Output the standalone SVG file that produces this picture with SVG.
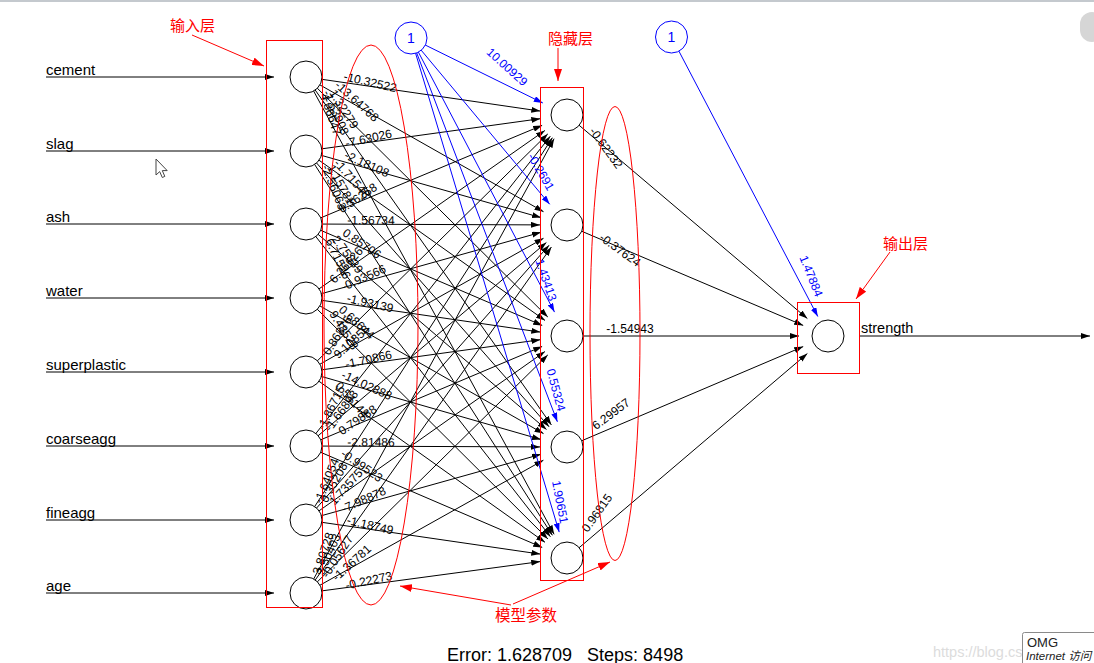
<svg xmlns="http://www.w3.org/2000/svg" width="1094" height="663" viewBox="0 0 1094 663">
<style>
.n{fill:#fff;stroke:#000;stroke-width:1}
.bn{fill:#fff;stroke:#0000ff;stroke-width:1}
.e{stroke:#000;stroke-width:1;fill:none;marker-end:url(#ak)}
.eb{stroke:#0000ff;stroke-width:1;fill:none;marker-end:url(#ab)}
.w{font-family:"Liberation Sans",Arial,sans-serif;font-size:12px;text-anchor:middle;fill:#000}
.wb{font-family:"Liberation Sans",Arial,sans-serif;font-size:12px;text-anchor:middle;fill:#0000ff}
.lb{font-family:"Liberation Sans",Arial,sans-serif;font-size:15px;fill:#000}
.r{stroke:#ff0000;stroke-width:1;fill:none}
.ra{stroke:#ff0000;stroke-width:1;fill:none;marker-end:url(#ar)}
.cn{font-family:"Noto Sans CJK SC",sans-serif;font-size:15px;fill:#ff0000}
</style>
<defs>
<marker id="ak" markerUnits="userSpaceOnUse" markerWidth="9" markerHeight="6" refX="9" refY="3" orient="auto"><path d="M0,0L9,3L0,6z" fill="#000"/></marker>
<marker id="ab" markerUnits="userSpaceOnUse" markerWidth="9" markerHeight="6" refX="9" refY="3" orient="auto"><path d="M0,0L9,3L0,6z" fill="#0000ff"/></marker>
<marker id="ar" markerUnits="userSpaceOnUse" markerWidth="12" markerHeight="8" refX="12" refY="4" orient="auto"><path d="M0,0L12,4L0,8z" fill="#ff0000"/></marker>
</defs>
<rect width="1094" height="663" fill="#fff"/>
<rect x="0" y="0" width="1094" height="2" fill="#c4c9ce"/>
<rect x="1080" y="12" width="24" height="30" rx="12" fill="#d6d6d6"/>

<g id="connectors">
<!-- input arrows -->
<line class="e" x1="46" y1="77" x2="274" y2="77"/>
<line class="e" x1="46" y1="151" x2="274" y2="151"/>
<line class="e" x1="46" y1="224" x2="274" y2="224"/>
<line class="e" x1="46" y1="298" x2="274" y2="298"/>
<line class="e" x1="46" y1="372" x2="274" y2="372"/>
<line class="e" x1="46" y1="446" x2="274" y2="446"/>
<line class="e" x1="46" y1="520" x2="274" y2="520"/>
<line class="e" x1="46" y1="593" x2="274" y2="593"/>
<!-- input to hidden -->
<line class="e" x1="306" y1="77" x2="540.3" y2="111.1"/>
<line class="e" x1="306" y1="77" x2="543.5" y2="211.7"/>
<line class="e" x1="306" y1="77" x2="547.8" y2="317.0"/>
<line class="e" x1="306" y1="77" x2="551.4" y2="424.9"/>
<line class="e" x1="306" y1="77" x2="554.1" y2="534.3"/>
<line class="e" x1="306" y1="151" x2="540.3" y2="118.7"/>
<line class="e" x1="306" y1="151" x2="541.0" y2="217.6"/>
<line class="e" x1="306" y1="151" x2="545.0" y2="320.4"/>
<line class="e" x1="306" y1="151" x2="549.1" y2="426.8"/>
<line class="e" x1="306" y1="151" x2="552.4" y2="535.3"/>
<line class="e" x1="306" y1="224" x2="542.1" y2="125.4"/>
<line class="e" x1="306" y1="224" x2="540.0" y2="224.9"/>
<line class="e" x1="306" y1="224" x2="542.2" y2="325.4"/>
<line class="e" x1="306" y1="224" x2="546.5" y2="429.5"/>
<line class="e" x1="306" y1="224" x2="550.4" y2="536.7"/>
<line class="e" x1="306" y1="298" x2="544.9" y2="130.5"/>
<line class="e" x1="306" y1="298" x2="541.0" y2="232.3"/>
<line class="e" x1="306" y1="298" x2="540.3" y2="332.1"/>
<line class="e" x1="306" y1="298" x2="543.5" y2="433.6"/>
<line class="e" x1="306" y1="298" x2="547.9" y2="538.9"/>
<line class="e" x1="306" y1="372" x2="547.8" y2="133.9"/>
<line class="e" x1="306" y1="372" x2="543.5" y2="238.3"/>
<line class="e" x1="306" y1="372" x2="540.3" y2="339.7"/>
<line class="e" x1="306" y1="372" x2="541.0" y2="439.5"/>
<line class="e" x1="306" y1="372" x2="545.0" y2="542.3"/>
<line class="e" x1="306" y1="446" x2="550.3" y2="136.2"/>
<line class="e" x1="306" y1="446" x2="546.4" y2="242.5"/>
<line class="e" x1="306" y1="446" x2="542.1" y2="346.5"/>
<line class="e" x1="306" y1="446" x2="540.0" y2="446.9"/>
<line class="e" x1="306" y1="446" x2="542.2" y2="547.4"/>
<line class="e" x1="306" y1="520" x2="552.4" y2="137.7"/>
<line class="e" x1="306" y1="520" x2="549.1" y2="245.2"/>
<line class="e" x1="306" y1="520" x2="544.9" y2="351.6"/>
<line class="e" x1="306" y1="520" x2="541.0" y2="454.3"/>
<line class="e" x1="306" y1="520" x2="540.3" y2="554.1"/>
<line class="e" x1="306" y1="593" x2="554.1" y2="138.7"/>
<line class="e" x1="306" y1="593" x2="551.4" y2="247.0"/>
<line class="e" x1="306" y1="593" x2="547.8" y2="354.9"/>
<line class="e" x1="306" y1="593" x2="543.4" y2="460.2"/>
<line class="e" x1="306" y1="593" x2="540.2" y2="561.6"/>
<!-- bias 1 to hidden -->
<line class="eb" x1="411" y1="38" x2="542.8" y2="103.0"/>
<line class="eb" x1="411" y1="38" x2="549.7" y2="204.3"/>
<line class="eb" x1="411" y1="38" x2="554.5" y2="312.1"/>
<line class="eb" x1="411" y1="38" x2="557.4" y2="421.8"/>
<line class="eb" x1="411" y1="38" x2="559.2" y2="532.1"/>
<!-- hidden to output -->
<line class="e" x1="567" y1="115" x2="807.4" y2="318.6"/>
<line class="e" x1="567" y1="225" x2="803.2" y2="325.4"/>
<line class="e" x1="567" y1="336" x2="799" y2="336"/>
<line class="e" x1="567" y1="447" x2="803.2" y2="346.6"/>
<line class="e" x1="567" y1="558" x2="807.4" y2="353.5"/>
<!-- bias 2 to output -->
<line class="eb" x1="671.5" y1="37" x2="817.8" y2="316.5"/>
<!-- output -->
<line class="e" x1="860" y1="336" x2="1090" y2="336"/>
</g>

<g id="input-nodes">
<g id="in-cement"><circle class="n" cx="306" cy="77" r="16"/><text class="lb" x="46" y="75">cement</text></g>
<g id="in-slag"><circle class="n" cx="306" cy="151" r="16"/><text class="lb" x="46" y="149">slag</text></g>
<g id="in-ash"><circle class="n" cx="306" cy="224" r="16"/><text class="lb" x="46" y="222">ash</text></g>
<g id="in-water"><circle class="n" cx="306" cy="298" r="16"/><text class="lb" x="46" y="296">water</text></g>
<g id="in-superplastic"><circle class="n" cx="306" cy="372" r="16"/><text class="lb" x="46" y="370">superplastic</text></g>
<g id="in-coarseagg"><circle class="n" cx="306" cy="446" r="16"/><text class="lb" x="46" y="444">coarseagg</text></g>
<g id="in-fineagg"><circle class="n" cx="306" cy="520" r="16"/><text class="lb" x="46" y="518">fineagg</text></g>
<g id="in-age"><circle class="n" cx="306" cy="593" r="16"/><text class="lb" x="46" y="591">age</text></g>
</g>

<g id="hidden-nodes">
<g id="h1"><circle class="n" cx="567" cy="115" r="16"/></g>
<g id="h2"><circle class="n" cx="567" cy="225" r="16"/></g>
<g id="h3"><circle class="n" cx="567" cy="336" r="16"/></g>
<g id="h4"><circle class="n" cx="567" cy="447" r="16"/></g>
<g id="h5"><circle class="n" cx="567" cy="558" r="16"/></g>
</g>

<g id="output-node"><circle class="n" cx="828" cy="336" r="16"/><text class="lb" x="861" y="333" style="font-size:14.5px">strength</text></g>

<g id="bias1"><circle class="bn" cx="411" cy="38" r="16"/><text x="411" y="43" text-anchor="middle" font-family="Liberation Sans, Arial, sans-serif" font-size="14" fill="#0000ff">1</text></g>
<g id="bias2"><circle class="bn" cx="671.5" cy="37" r="16"/><text x="671.5" y="42" text-anchor="middle" font-family="Liberation Sans, Arial, sans-serif" font-size="14" fill="#0000ff">1</text></g>

<g id="weights">
<text class="w" x="369.3" y="86.2" transform="rotate(13.1 369.3 86.2)">-10.32522</text>
<text class="w" x="354.1" y="104.3" transform="rotate(42.2 354.1 104.3)">-13.64768</text>
<text class="w" x="340.6" y="111.4" transform="rotate(57.8 340.6 111.4)">1.32279</text>
<text class="w" x="332.2" y="114.2" transform="rotate(66.2 332.2 114.2)">-1.53908</text>
<text class="w" x="326.9" y="115.5" transform="rotate(71.3 326.9 115.5)">4.86647</text>
<text class="w" x="369.5" y="142.3" transform="rotate(-12.4 369.5 142.3)">-7.63026</text>
<text class="w" x="365.2" y="167.8" transform="rotate(24.4 365.2 167.8)">-2.18108</text>
<text class="w" x="349.0" y="181.5" transform="rotate(48.6 349.0 181.5)">-1.71548</text>
<text class="w" x="337.4" y="186.6" transform="rotate(61.1 337.4 186.6)">1.15781</text>
<text class="w" x="330.2" y="188.7" transform="rotate(68.2 330.2 188.7)">-2.56063</text>
<text class="w" x="360.1" y="201.4" transform="rotate(-33.7 360.1 201.4)">0.36258</text>
<text class="w" x="371.0" y="224.3" transform="rotate(0.4 371 224.3)">-1.56734</text>
<text class="w" x="359.6" y="247.0" transform="rotate(34.5 359.6 247.0)">0.85706</text>
<text class="w" x="344.4" y="256.8" transform="rotate(53.8 344.4 256.8)">2.75839</text>
<text class="w" x="334.5" y="260.5" transform="rotate(64.0 334.5 260.5)">6.71526</text>
<text class="w" x="349.3" y="267.7" transform="rotate(-48.3 349.3 267.7)">6.26626</text>
<text class="w" x="365.3" y="281.4" transform="rotate(-24.1 365.3 281.4)">-0.93566</text>
<text class="w" x="369.3" y="307.2" transform="rotate(13.1 369.3 307.2)">-1.93139</text>
<text class="w" x="354.0" y="325.4" transform="rotate(42.4 354.0 325.4)">0.68644</text>
<text class="w" x="340.6" y="332.4" transform="rotate(57.9 340.6 332.4)">9.48528</text>
<text class="w" x="340.8" y="337.7" transform="rotate(-57.6 340.8 337.7)">0.86876</text>
<text class="w" x="354.3" y="344.8" transform="rotate(-42.0 354.3 344.8)">9.10858</text>
<text class="w" x="369.5" y="363.3" transform="rotate(-12.4 369.5 363.3)">-1.70866</text>
<text class="w" x="365.1" y="389.0" transform="rotate(24.7 365.1 389.0)">-14.02888</text>
<text class="w" x="348.9" y="402.5" transform="rotate(48.7 348.9 402.5)">0.54144</text>
<text class="w" x="334.7" y="409.6" transform="rotate(-63.8 334.7 409.6)">-1.86715</text>
<text class="w" x="344.6" y="413.3" transform="rotate(-53.6 344.6 413.3)">-1.66898</text>
<text class="w" x="359.9" y="423.3" transform="rotate(-34.0 359.9 423.3)">0.79888</text>
<text class="w" x="371.0" y="446.3" transform="rotate(0.4 371 446.3)">-2.81486</text>
<text class="w" x="359.6" y="469.0" transform="rotate(34.5 359.6 469.0)">-0.99523</text>
<text class="w" x="330.3" y="482.3" transform="rotate(-68.1 330.3 482.3)">-1.64054</text>
<text class="w" x="337.5" y="484.5" transform="rotate(-61.1 337.5 484.5)">0.35208</text>
<text class="w" x="349.1" y="489.6" transform="rotate(-48.4 349.1 489.6)">1.73575</text>
<text class="w" x="365.3" y="503.4" transform="rotate(-24.1 365.3 503.4)">-7.98878</text>
<text class="w" x="369.3" y="529.2" transform="rotate(13.1 369.3 529.2)">-1.18749</text>
<text class="w" x="327.0" y="554.6" transform="rotate(-71.2 327.0 554.6)">3.80728</text>
<text class="w" x="332.3" y="555.9" transform="rotate(-66.1 332.3 555.9)">3.50403</text>
<text class="w" x="340.8" y="558.7" transform="rotate(-57.6 340.8 558.7)">-0.05627</text>
<text class="w" x="354.4" y="565.9" transform="rotate(-41.8 354.4 565.9)">-1.36781</text>
<text class="w" x="369.6" y="584.5" transform="rotate(-12.1 369.6 584.5)">-0.22273</text>
<!-- hidden to output -->
<text class="w" x="606" y="152" transform="rotate(54 606 148)">-0.62232</text>
<text class="w" x="620" y="254" transform="rotate(36 620 250)">-0.37624</text>
<text class="w" x="630" y="333">-1.54943</text>
<text class="w" x="611" y="418" transform="rotate(-37 611 414)">6.29957</text>
<text class="w" x="597" y="517" transform="rotate(-55 597 513)">0.96815</text>
<!-- bias weights -->
<text class="wb" x="507" y="71" transform="rotate(42 507 67)">10.00929</text>
<text class="wb" x="541" y="176" transform="rotate(60 541 172)">-0.2691</text>
<text class="wb" x="546" y="284" transform="rotate(71 546 280)">1.43413</text>
<text class="wb" x="556" y="394" transform="rotate(75 556 390)">0.55324</text>
<text class="wb" x="560" y="506" transform="rotate(79 560 502)">1.90651</text>
<text class="wb" x="811" y="280" transform="rotate(68 811 276)">1.47884</text>
</g>

<g id="annotations">
<rect class="r" x="266.5" y="40.5" width="56" height="567"/>
<rect class="r" x="540.5" y="87.5" width="43" height="493"/>
<rect class="r" x="797.5" y="302.5" width="62" height="71"/>
<ellipse class="r" cx="371" cy="325" rx="47" ry="280"/>
<ellipse class="r" cx="615" cy="333.5" rx="25" ry="227"/>
<text class="cn" x="170" y="31">输入层</text>
<line class="ra" x1="192" y1="35" x2="264" y2="66"/>
<text class="cn" x="548" y="44">隐藏层</text>
<line class="ra" x1="558" y1="48" x2="558" y2="81"/>
<text class="cn" x="883" y="249">输出层</text>
<line class="ra" x1="890" y1="252" x2="856" y2="299"/>
<text class="cn" x="495" y="621" style="font-size:15.5px">模型参数</text>
<line class="ra" x1="511" y1="605" x2="400" y2="586"/>
<line class="ra" x1="513" y1="604" x2="610" y2="562"/>
</g>

<text x="447" y="661" xml:space="preserve" font-family="Liberation Sans, Arial, sans-serif" font-size="18" fill="#000">Error: 1.628709   Steps: 8498</text>

<g id="cursor"><path d="M156,159 L156,175 L159.7,171.6 L162.3,177.5 L164.8,176.4 L162.3,170.6 L167.2,170.6 Z" fill="#fff" stroke="#444" stroke-width="1"/></g>

<text x="933" y="657" font-family="Liberation Sans, Arial, sans-serif" font-size="14.5" fill="#dcdcdc">https://blog.cs</text>
<g id="tooltip">
<rect x="1022.5" y="632.5" width="80" height="40" rx="2" fill="#fff" stroke="#8a8a8a"/>
<text x="1027" y="647" font-family="Liberation Sans, Arial, sans-serif" font-size="13" fill="#222">OMG</text>
<text x="1026" y="660" font-family="Liberation Sans, 'Noto Sans CJK SC', sans-serif" font-size="11.5" font-style="italic" fill="#222">Internet 访问</text>
</g>
</svg>
